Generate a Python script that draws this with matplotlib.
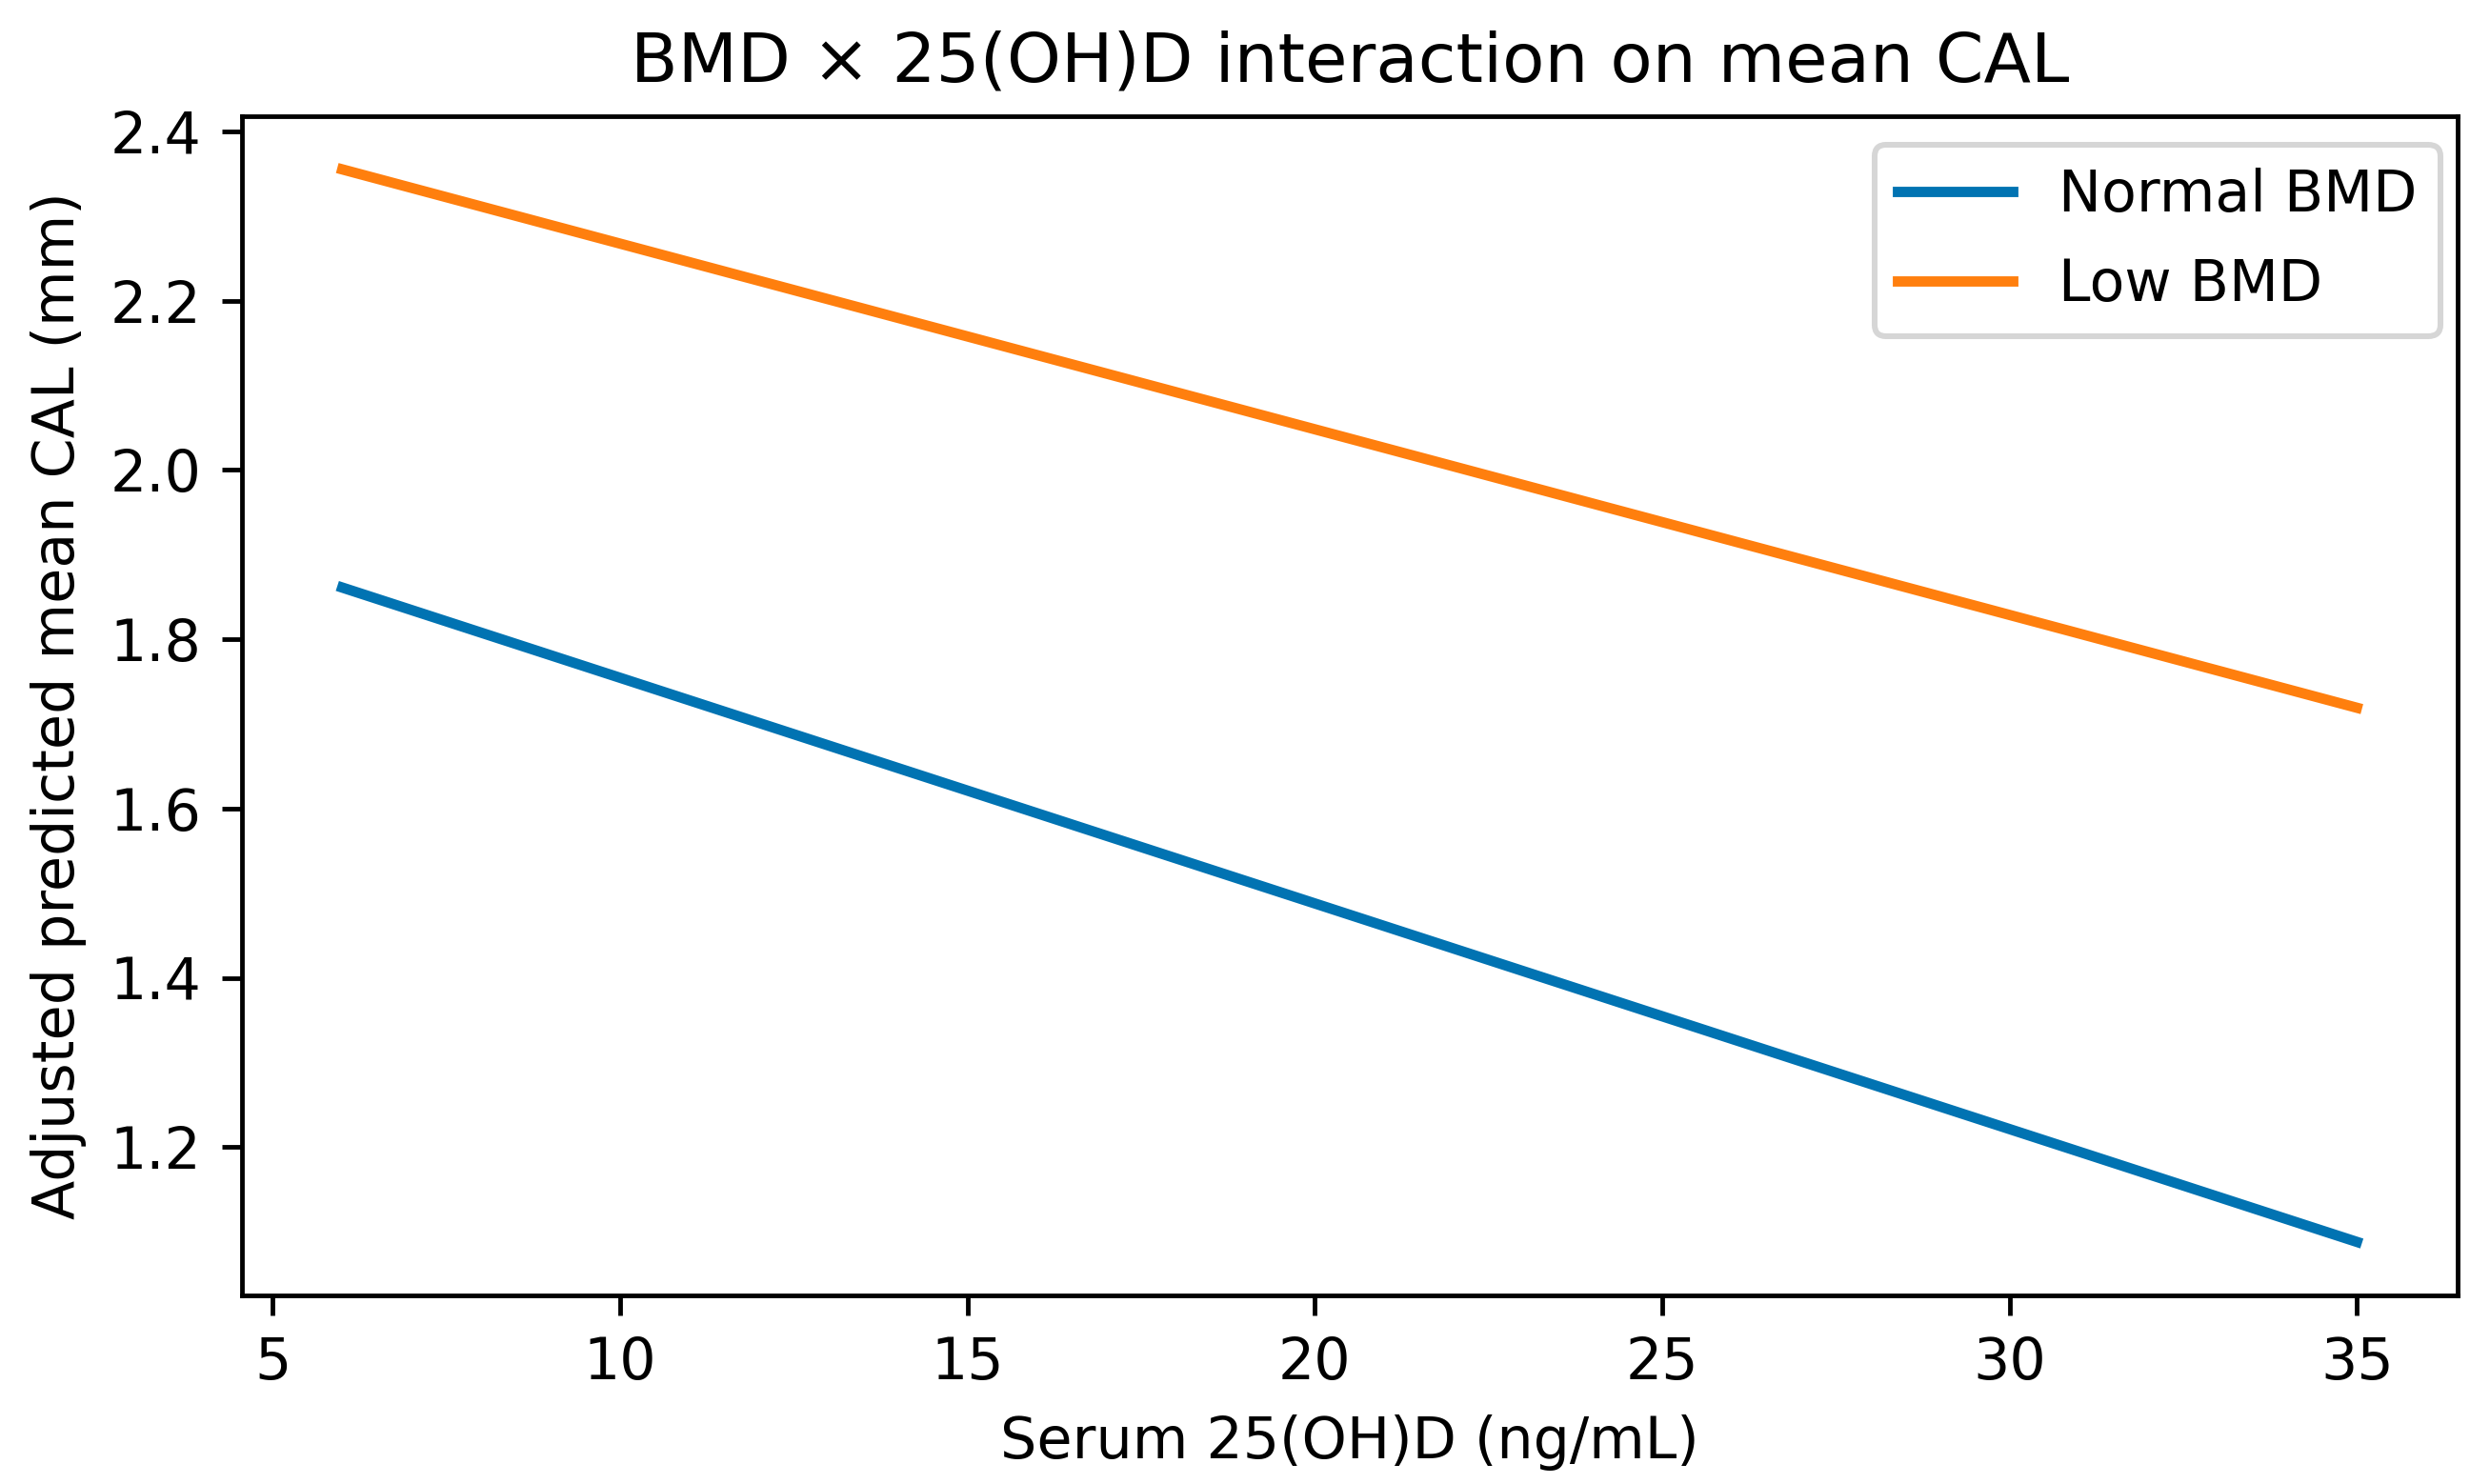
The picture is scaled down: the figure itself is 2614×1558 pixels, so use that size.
import matplotlib
matplotlib.use("Agg")
import matplotlib.pyplot as plt

vitd = [6, 35]
normal_bmd = [1.861, 1.088]
low_bmd = [2.355, 1.719]
series_labels = ["Normal BMD", "Low BMD"]
title = "BMD × 25(OH)D interaction on mean CAL"
xlabel = "Serum 25(OH)D (ng/mL)"
ylabel = "Adjusted predicted mean CAL (mm)"

dpi = 434
fig = plt.figure(figsize=(2614 / dpi, 1558 / dpi), dpi=dpi)
ax = fig.add_axes([0.097, 0.127, 0.890, 0.795])
ax.plot(vitd, normal_bmd, color="#0173B2", lw=1.8, label=series_labels[0])
ax.plot(vitd, low_bmd, color="#FF7F0E", lw=1.8, label=series_labels[1])
ax.set_title(title, fontsize=12)
ax.set_xlabel(xlabel, fontsize=10)
ax.set_ylabel(ylabel, fontsize=10)
ax.tick_params(labelsize=10)
ax.legend(loc="upper right", fontsize=10, bbox_to_anchor=(1.005, 1.0),
          labelspacing=0.58)
fig.savefig("out.png", dpi=dpi)
